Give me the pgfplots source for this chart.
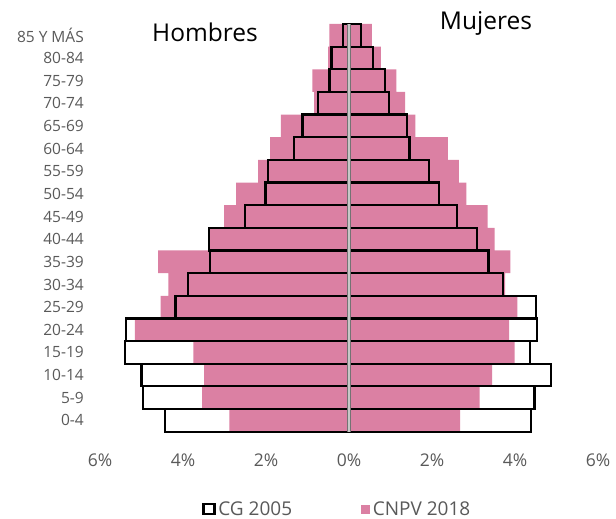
\documentclass[border=0pt]{standalone}
\usepackage{pgfplots}
\pgfplotsset{compat=1.18}
\usepackage{fontspec}
\setmainfont{Open Sans}
\definecolor{pinkbar}{RGB}{219,128,163}
\definecolor{txt}{RGB}{89,89,89}
\begin{document}
\begin{tikzpicture}
\useasboundingbox (-100pt,-87.3pt) rectangle (516pt,431.7pt);
\begin{axis}[
  at={(0pt,0pt)}, anchor=south west,
  scale only axis, width=498pt, height=407.7pt,
  xmin=-6, xmax=6, ymin=-0.5, ymax=17.5,
  xtick={-6,-4,-2,0,2,4,6},
  xticklabels={6\%,4\%,2\%,0\%,2\%,4\%,6\%},
  ytick={0,1,...,17},
  yticklabels={0-4,5-9,10-14,15-19,20-24,25-29,30-34,35-39,40-44,45-49,50-54,55-59,60-64,65-69,70-74,75-79,80-84,85 Y MÁS},
  axis line style={draw=none},
  major tick length=0pt,
  tick style={draw=none},
  xticklabel style={font=\fontsize{17.5}{20}\selectfont, text=txt, inner sep=0pt, yshift=-21.6pt},
  yticklabel style={font=\fontsize{15.5}{18}\selectfont, text=txt, inner sep=0pt, xshift=-16pt},
  clip=false,
  xbar, bar width=1,
  legend columns=2,
  legend style={at={(0.4745,-0.1896)}, anchor=center, draw=none, fill=none,
    inner sep=0pt, outer sep=0pt, column sep=0pt,
    nodes={inner sep=0pt, text=txt, font=\fontsize{19}{22}\selectfont}},
]
% CNPV 2018 (pink)
\addplot[bar shift=0pt, fill=pinkbar, draw=none, forget plot] coordinates {
(-2.88,0) (-3.54,1) (-3.49,2) (-3.75,3) (-5.16,4) (-4.54,5) (-4.35,6) (-4.60,7) (-3.37,8)
(-3.01,9) (-2.72,10) (-2.19,11) (-1.90,12) (-1.64,13) (-0.84,14) (-0.88,15) (-0.50,16) (-0.47,17)};
\addplot[bar shift=0pt, fill=pinkbar, draw=none, forget plot] coordinates {
(2.68,0) (3.15,1) (3.45,2) (3.99,3) (3.86,4) (4.06,5) (3.76,6) (3.89,7) (3.51,8)
(3.34,9) (2.83,10) (2.65,11) (2.38,12) (1.60,13) (1.35,14) (1.14,15) (0.77,16) (0.55,17)};
% CG 2005 (outline)
\addplot[bar shift=0pt, draw=black, line width=2.2pt, fill=none, forget plot] coordinates {
(-4.43,0) (-4.96,1) (-5.00,2) (-5.40,3) (-5.37,4) (-4.18,5) (-3.87,6) (-3.34,7) (-3.37,8)
(-2.51,9) (-2.01,10) (-1.96,11) (-1.33,12) (-1.12,13) (-0.74,14) (-0.47,15) (-0.42,16) (-0.15,17)};
\addplot[bar shift=0pt, draw=black, line width=2.2pt, fill=none, forget plot] coordinates {
(4.38,0) (4.47,1) (4.87,2) (4.37,3) (4.53,4) (4.51,5) (3.72,6) (3.36,7) (3.09,8)
(2.60,9) (2.17,10) (1.93,11) (1.46,12) (1.40,13) (0.96,14) (0.87,15) (0.58,16) (0.29,17)};
% vertical axis line at 0
\draw[line width=3.6pt, black!55] (axis cs:0,-0.5) -- (axis cs:0,17.5);
\draw[line width=1.6pt, black!22] (axis cs:0,-0.5) -- (axis cs:0,17.5);
% titles
\node[anchor=base, font=\fontsize{24.5}{28}\selectfont, text=black] at (axis cs:-3.47,16.72) {Hombres};
\node[anchor=base, font=\fontsize{24.5}{28}\selectfont, text=black] at (axis cs:3.30,17.24) {Mujeres};
% legend
\addlegendimage{draw=none, fill=none, legend image code/.code={
  \draw[draw=black, line width=2.2pt, fill=white] (1.1pt,-5.1pt) rectangle (12.2pt,5.1pt);
  \path[draw=none] (0pt,0pt) -- (16pt,0pt);}}
\addlegendentry{CG 2005}
\addlegendimage{draw=none, fill=none, legend image code/.code={
  \path[draw=none] (-69pt,0pt) -- (0pt,0pt);
  \fill[fill=pinkbar, draw=none] (0pt,-4.5pt) rectangle (8.4pt,4.5pt);
  \path[draw=none] (0pt,0pt) -- (11.7pt,0pt);}}
\addlegendentry{CNPV 2018}
\end{axis}
\end{tikzpicture}
\end{document}
